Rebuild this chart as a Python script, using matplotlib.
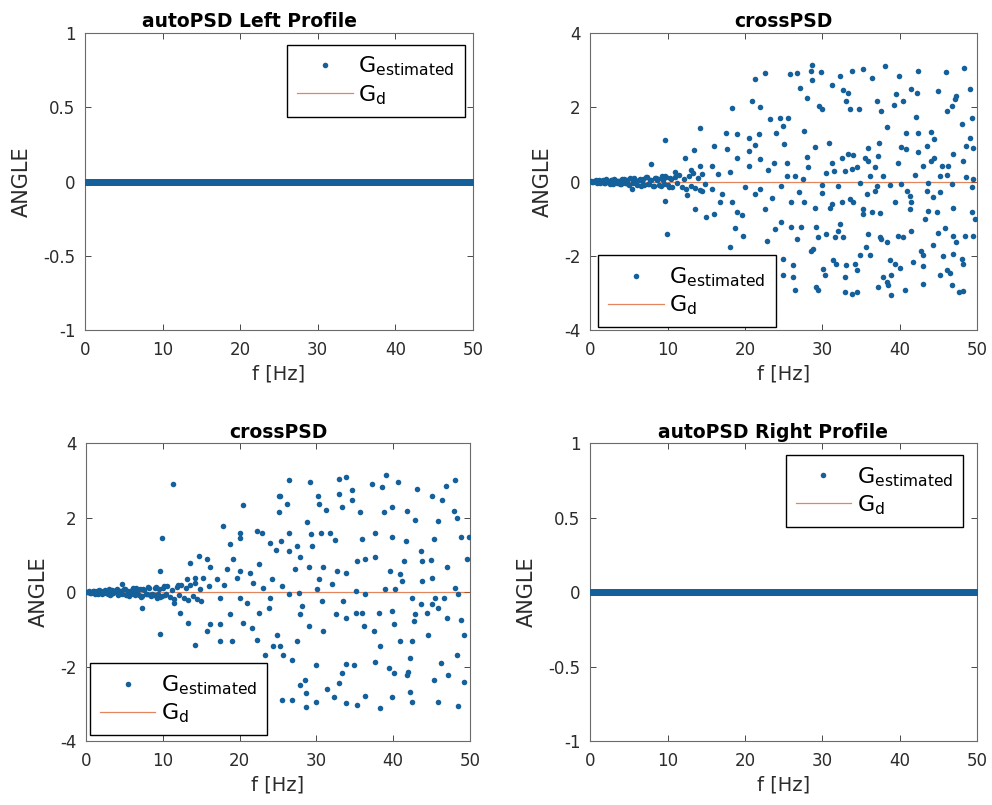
import numpy as np
import matplotlib
matplotlib.use('Agg')
import matplotlib.pyplot as plt

plt.rcParams['font.family'] = ['DejaVu Sans']
plt.rcParams['mathtext.fontset'] = 'dejavusans'

# frequency bins of the auto spectra (phase is zero everywhere)
freq_auto = np.arange(0, 50.05, 0.1)
angle_auto_left = np.zeros_like(freq_auto)
angle_auto_right = np.zeros_like(freq_auto)

# cross spectrum, left->right (top right panel): (f [Hz], angle [rad])
cross_top = [
    # near-zero cluster at low frequency
    (0.1, 0.01), (0.4, -0.02), (0.7, 0.03), (1.0, 0.00), (1.3, -0.04), (1.6, 0.05), (1.9, -0.03),
    (2.2, 0.02), (2.5, -0.06), (2.8, 0.04), (3.1, 0.07), (3.4, -0.05), (3.7, 0.01), (4.0, -0.08),
    (4.3, 0.06), (4.6, 0.03), (4.9, -0.07), (5.2, 0.09), (5.5, -0.04), (5.8, 0.05), (6.1, -0.10),
    (6.4, 0.08), (6.7, 0.02), (7.0, -0.09), (7.3, 0.11), (7.6, -0.06), (7.9, 0.04), (8.2, -0.12),
    (8.5, 0.10), (8.8, 0.07), (9.1, -0.13), (9.4, 0.05), (9.7, 0.14), (10.0, -0.10), (10.3, 0.09),
    (10.6, -0.16), (10.9, 0.12), (11.2, -0.05), (11.5, 0.18), (11.8, -0.14), (12.1, 0.08),
    (12.4, -0.20), (12.7, 0.15), (13.0, -0.11), (13.3, 0.22), (13.6, -0.18), (13.9, 0.10),
    (14.2, -0.24), (14.5, 0.19), (14.8, -0.08),
    (0.25, -0.01), (0.55, 0.02), (0.85, -0.03), (1.15, 0.04), (1.45, 0.01), (1.75, -0.05),
    (2.05, 0.06), (2.35, -0.02), (2.65, 0.03), (2.95, -0.07), (3.25, 0.05), (3.55, 0.02),
    (3.85, -0.06), (4.15, 0.08), (4.45, -0.03), (4.75, 0.04), (5.05, -0.09), (5.35, 0.06),
    (5.65, 0.10), (5.95, -0.05), (6.25, 0.03), (6.55, -0.11), (6.85, 0.07), (7.15, 0.12),
    (7.45, -0.08), (7.75, 0.05), (8.05, -0.13), (8.35, 0.09), (8.65, 0.04), (8.95, -0.10),
    (9.25, 0.15), (9.55, -0.07), (9.85, 0.11), (10.15, -0.15), (10.45, 0.06),
    # 5 - 25 Hz
    (22.6, 2.92), (21.3, 2.76), (20.9, 2.18), (21.9, 2.00), (18.3, 1.97), (23.2, 1.69),
    (14.2, 1.45), (9.7, 1.13), (17.6, 1.31), (19.0, 1.29), (20.5, 1.18), (21.8, 1.29),
    (24.0, 1.31), (16.0, 0.96), (13.4, 0.85), (17.7, 0.88), (21.3, 0.99), (12.3, 0.64),
    (7.8, 0.46), (19.0, 0.64), (20.5, 0.82), (23.7, 0.51), (14.2, 0.42), (15.7, 0.42),
    (20.5, 0.42), (22.0, 0.60), (23.0, 0.30), (18.0, 0.25), (16.5, 0.20), (13.0, 0.30),
    (11.0, 0.25), (9.7, -0.52), (13.6, -0.74), (14.9, -0.96), (16.0, -0.88), (18.3, -0.56),
    (19.0, -0.83), (19.6, -0.90), (22.6, -0.74), (9.9, -1.41), (18.7, -1.26), (19.8, -1.46),
    (23.9, -1.28), (22.8, -1.59), (18.1, -1.77), (17.0, -0.34), (21.3, -0.34), (15.7, -0.20),
    (5.4, -0.20), (12.5, -0.35), (14.5, -0.25), (20.0, -0.15), (22.0, -0.20), (23.5, -0.45),
    (16.8, -0.55),
    # 25 - 50 Hz
    (28.7, 3.13), (29.8, 2.96), (25.8, 2.89), (26.7, 2.92), (28.5, 2.99), (33.8, 2.99),
    (35.2, 3.03), (38.1, 3.10), (39.9, 2.85), (42.3, 2.99), (46.0, 2.96), (48.3, 3.05),
    (36.4, 2.79), (32.3, 2.83), (28.7, 2.74), (31.3, 2.61), (27.1, 2.52), (32.7, 2.47),
    (33.3, 2.38), (39.5, 2.36), (41.4, 2.49), (42.2, 2.38), (45.0, 2.43), (47.3, 2.29),
    (49.1, 2.49), (28.0, 2.25), (29.6, 2.03), (30.0, 1.94), (33.1, 2.16), (33.6, 1.94),
    (34.7, 1.94), (37.1, 2.16), (39.2, 2.07), (40.4, 2.16), (37.6, 1.89), (46.1, 1.91),
    (46.7, 2.03), (47.1, 2.21), (24.5, 1.71), (25.6, 1.71), (42.1, 1.74), (49.3, 1.71),
    (38.4, 1.46), (24.9, 1.49), (27.6, 1.36), (40.8, 1.31), (42.4, 1.31), (44.1, 1.33),
    (44.4, 1.15), (48.0, 1.54), (49.1, 1.18), (30.9, 1.04), (29.0, 0.94), (35.9, 0.91),
    (37.3, 1.04), (40.2, 0.94), (40.8, 0.87), (43.5, 0.97), (48.6, 0.97), (49.5, 0.89),
    (25.1, 1.00), (28.0, 0.67), (32.5, 0.64), (33.3, 0.73), (34.0, 0.71), (35.5, 0.64),
    (37.2, 0.69), (42.4, 0.79), (44.4, 0.64), (46.9, 0.73), (25.4, 0.51), (31.2, 0.51),
    (35.9, 0.55), (39.8, 0.51), (43.0, 0.42), (44.0, 0.55), (48.2, 0.55), (45.4, 0.42),
    (46.3, 0.42), (28.2, 0.38), (30.5, 0.24), (31.5, 0.29), (32.9, 0.29), (33.8, 0.33),
    (34.5, 0.38), (36.8, 0.38), (37.9, 0.15), (36.1, 0.15), (25.4, 0.15), (26.4, 0.15),
    (27.5, 0.08), (42.0, 0.17), (45.2, 0.15), (46.1, 0.17), (48.5, 0.11), (49.5, 0.08),
    (24.7, -0.12), (29.9, -0.10), (32.0, -0.12), (34.8, -0.03), (37.0, -0.12), (38.7, -0.10),
    (40.2, -0.07), (43.7, -0.03), (46.7, -0.07), (49.3, -0.16), (27.0, -0.29), (29.9, -0.31),
    (35.8, -0.34), (36.8, -0.25), (40.9, -0.25), (41.3, -0.38), (43.5, -0.25), (45.2, -0.29),
    (26.0, -0.56), (27.6, -0.56), (31.2, -0.61), (32.5, -0.56), (33.6, -0.47), (34.0, -0.56),
    (39.4, -0.56), (41.5, -0.56), (44.3, -0.43), (29.0, -0.70), (31.0, -0.70), (35.3, -0.74),
    (35.3, -0.88), (36.4, -0.83), (37.4, -0.85), (41.3, -0.74), (43.7, -0.79), (44.8, -0.81),
    (46.9, -0.70), (49.3, -0.83), (49.7, -1.00), (24.7, -1.08), (43.3, -1.00), (32.3, -1.14),
    (26.0, -1.23), (27.3, -1.23), (29.2, -1.23), (30.5, -1.41), (32.0, -1.32), (31.6, -1.50),
    (32.7, -1.50), (29.5, -1.50), (26.7, -1.56), (41.5, -1.32), (39.8, -1.46), (40.4, -1.50),
    (37.4, -1.50), (37.6, -1.56), (38.3, -1.63), (35.9, -1.41), (45.0, -1.38), (45.8, -1.26),
    (46.9, -1.46), (47.3, -1.63), (48.4, -1.46), (49.5, -1.47), (44.3, -1.71), (28.8, -1.81),
    (28.5, -1.86), (35.7, -1.77), (34.8, -1.99), (36.1, -1.99), (42.8, -1.86), (43.0, -1.97),
    (45.6, -2.00), (46.9, -1.95), (48.0, -2.08), (24.9, -2.08), (26.2, -2.26), (38.7, -2.10),
    (39.4, -2.21), (40.0, -2.33), (41.7, -2.17), (43.0, -2.28), (31.4, -2.12), (31.8, -2.21),
    (30.1, -2.35), (33.1, -2.24), (34.2, -2.21), (34.5, -2.39), (30.3, -2.53), (32.9, -2.57),
    (26.2, -2.57), (24.9, -2.53), (37.9, -2.57), (38.3, -2.71), (38.9, -2.53), (38.5, -2.80),
    (37.2, -2.84), (45.2, -2.53), (46.1, -2.39), (46.5, -2.46), (48.2, -2.21), (29.2, -2.84),
    (29.5, -2.93), (26.4, -2.93), (32.9, -2.97), (33.8, -3.02), (34.5, -2.97), (38.9, -3.06),
    (40.7, -2.93), (43.0, -2.75), (46.7, -2.79), (47.6, -2.97), (48.2, -2.95),
]

# cross spectrum, right->left (bottom left panel)
cross_bottom = [
    # near-zero cluster at low frequency
    (0.1, -0.01), (0.4, 0.02), (0.7, -0.03), (1.0, 0.03), (1.3, 0.00), (1.6, -0.05), (1.9, 0.04),
    (2.2, -0.02), (2.5, 0.06), (2.8, -0.04), (3.1, -0.07), (3.4, 0.05), (3.7, -0.01), (4.0, 0.08),
    (4.3, -0.06), (4.6, 0.03), (4.9, 0.07), (5.2, -0.09), (5.5, 0.04), (5.8, -0.05), (6.1, 0.10),
    (6.4, -0.08), (6.7, -0.02), (7.0, 0.09), (7.3, -0.11), (7.6, 0.06), (7.9, -0.04), (8.2, 0.12),
    (8.5, -0.10), (8.8, -0.07), (9.1, 0.13), (9.4, -0.05), (9.7, -0.14), (10.0, 0.10), (10.3, -0.09),
    (10.6, 0.16), (10.9, -0.12), (11.2, 0.05), (11.5, -0.18), (11.8, 0.14), (12.1, -0.08),
    (12.4, 0.20), (12.7, -0.15), (13.0, 0.11), (13.3, -0.22), (13.6, 0.18), (13.9, -0.10),
    (14.2, 0.24), (14.5, -0.19), (14.8, 0.08),
    (0.25, 0.01), (0.55, -0.02), (0.85, 0.03), (1.15, -0.04), (1.45, 0.02), (1.75, 0.05),
    (2.05, -0.06), (2.35, 0.02), (2.65, -0.03), (2.95, 0.07), (3.25, -0.05), (3.55, -0.02),
    (3.85, 0.06), (4.15, -0.08), (4.45, 0.03), (4.75, -0.04), (5.05, 0.09), (5.35, -0.06),
    (5.65, -0.10), (5.95, 0.05), (6.25, -0.03), (6.55, 0.11), (6.85, -0.07), (7.15, -0.12),
    (7.45, 0.08), (7.75, -0.05), (8.05, 0.13), (8.35, -0.09), (8.65, -0.04), (8.95, 0.10),
    (9.25, -0.15), (9.55, 0.07), (9.85, -0.11), (10.15, 0.15), (10.45, -0.06),
    # 5 - 25 Hz
    (11.3, 2.91), (20.5, 2.34), (25.1, 2.59), (25.1, 2.14), (17.9, 1.78), (20.0, 1.58),
    (20.0, 1.45), (22.3, 1.63), (22.9, 1.60), (9.9, 1.45), (18.7, 1.29), (23.9, 1.33),
    (24.7, 1.13), (19.2, 0.88), (14.7, 0.97), (15.7, 0.88), (13.6, 0.79), (16.2, 0.68),
    (18.3, 0.61), (20.1, 0.57), (21.3, 0.52), (22.5, 0.75), (9.6, 0.57), (13.1, 0.34),
    (14.2, 0.39), (15.3, 0.39), (17.0, 0.34), (19.7, 0.39), (21.8, 0.25), (24.2, 0.34),
    (4.7, 0.23), (16.0, 0.15), (18.0, 0.20), (12.0, 0.18), (23.0, 0.10), (7.3, -0.42),
    (12.3, -0.56), (13.3, -0.83), (16.2, -0.86), (17.5, -0.86), (15.8, -1.04), (18.8, -0.60),
    (20.5, -0.83), (21.6, -0.96), (9.7, -1.13), (14.2, -1.43), (17.5, -1.32), (19.0, -1.31),
    (22.3, -1.28), (23.3, -1.68), (24.4, -1.46), (22.7, -2.90), (20.1, -0.15), (23.8, -0.42),
    (24.0, -0.15), (15.0, -0.25), (17.5, -0.15), (21.0, -0.30), (22.5, -0.55), (11.5, -0.30),
    # 25 - 50 Hz
    (26.4, 3.00), (29.2, 2.95), (33.0, 3.05), (33.9, 3.09), (34.6, 2.75), (37.2, 2.89),
    (38.5, 2.82), (39.1, 3.14), (40.6, 2.97), (43.1, 2.77), (46.9, 2.86), (48.1, 3.02),
    (26.2, 2.37), (25.3, 2.59), (30.2, 2.59), (30.3, 2.37), (31.3, 2.21), (32.9, 2.64),
    (33.3, 2.28), (34.6, 2.46), (35.7, 2.14), (38.8, 2.14), (39.8, 2.28), (41.8, 2.19),
    (42.9, 1.94), (45.1, 2.59), (46.4, 2.46), (47.9, 2.19), (48.3, 1.99), (45.9, 1.92),
    (28.8, 1.87), (26.5, 1.60), (25.4, 1.38), (30.6, 1.60), (31.8, 1.58), (32.4, 1.40),
    (29.3, 1.56), (37.7, 1.60), (35.9, 1.42), (39.9, 1.49), (41.7, 1.36), (45.3, 1.42),
    (48.8, 1.47), (49.9, 1.47), (27.5, 1.24), (29.4, 1.24), (26.4, 1.11), (27.9, 0.93),
    (36.4, 0.88), (35.3, 0.84), (37.7, 0.93), (41.4, 0.84), (43.6, 1.11), (43.8, 0.84),
    (44.9, 0.86), (47.0, 0.68), (49.6, 0.88), (27.2, 0.61), (29.0, 0.68), (30.9, 0.68),
    (32.7, 0.57), (33.8, 0.52), (39.6, 0.57), (40.9, 0.48), (41.2, 0.30), (43.8, 0.30),
    (45.0, 0.39), (30.3, 0.34), (32.0, 0.21), (30.1, 0.07), (25.5, 0.16), (26.4, -0.06),
    (27.7, -0.02), (35.1, 0.03), (36.4, -0.06), (39.0, 0.07), (40.3, 0.07), (42.5, -0.15),
    (45.5, -0.15), (46.6, -0.15), (48.1, 0.12), (48.5, -0.06), (30.7, -0.24), (33.5, -0.24),
    (28.1, -0.38), (32.5, -0.59), (33.8, -0.69), (35.1, -0.56), (36.0, -0.56), (38.1, -0.56),
    (39.9, -0.51), (43.6, -0.33), (42.9, -0.60), (44.4, -0.56), (45.1, -0.33), (45.9, -0.42),
    (27.9, -0.60), (29.0, -0.92), (30.9, -1.04), (36.2, -0.92), (37.5, -1.05), (40.1, -0.87),
    (40.9, -1.32), (42.5, -1.31), (42.7, -0.78), (44.6, -1.14), (47.0, -0.69), (48.8, -0.74),
    (49.2, -1.14), (24.9, -1.14), (25.3, -1.46), (27.5, -1.32), (26.8, -1.82), (25.7, -1.68),
    (29.9, -1.97), (33.8, -1.94), (34.9, -1.96), (37.7, -1.89), (38.3, -1.46), (42.2, -1.77),
    (39.4, -2.05), (40.1, -2.18), (42.0, -2.14), (46.2, -1.91), (47.2, -2.23), (48.3, -1.68),
    (49.2, -2.41), (45.3, -2.36), (33.3, -2.18), (32.9, -2.45), (28.5, -2.36), (27.9, -2.50),
    (31.4, -2.60), (32.3, -2.81), (28.6, -2.72), (26.8, -2.90), (25.5, -2.90), (28.6, -3.08),
    (29.9, -2.96), (33.8, -2.99), (35.3, -3.04), (36.4, -2.79), (38.3, -3.11), (39.9, -2.81),
    (42.2, -2.68), (42.5, -2.96), (45.9, -2.96), (48.5, -3.05), (41.8, -2.22),
]

f_top, ang_top = np.array(cross_top).T
f_bot, ang_bot = np.array(cross_bottom).T

C_EST = '#14609a'
C_D = '#D95319'
C_TXT = '#2b2b2b'

fig = plt.figure(figsize=(9.92, 8.05), dpi=100)

# [left, bottom, width, height] in figure fraction
positions = [
    [0.0857, 0.590, 0.391, 0.369],
    [0.595, 0.590, 0.390, 0.369],
    [0.0867, 0.0795, 0.387, 0.370],
    [0.595, 0.0795, 0.390, 0.370],
]

panels = [
    dict(title='autoPSD Left Profile', tx=0.425, f=freq_auto, a=angle_auto_left, ms=4.8,
         ylim=(-1, 1), yticks=[-1, -0.5, 0, 0.5, 1],
         leg_loc='upper right', leg_anchor=(0.979, 0.96)),
    dict(title='crossPSD', tx=0.5, f=f_top, a=ang_top, ms=4.0, ylim=(-4, 4),
         yticks=[-4, -2, 0, 2, 4], leg_loc='lower left', leg_anchor=(0.021, 0.01)),
    dict(title='crossPSD', tx=0.5, f=f_bot, a=ang_bot, ms=4.0, ylim=(-4, 4),
         yticks=[-4, -2, 0, 2, 4], leg_loc='lower left', leg_anchor=(0.01, 0.02)),
    dict(title='autoPSD Right Profile', tx=0.473, f=freq_auto, a=angle_auto_right, ms=4.8,
         ylim=(-1, 1), yticks=[-1, -0.5, 0, 0.5, 1],
         leg_loc='upper right', leg_anchor=(0.964, 0.96)),
]

for pos, p in zip(positions, panels):
    ax = fig.add_axes(pos)
    # reference line sits underneath the estimated points
    ax.plot(p['f'], p['a'], 'o', color=C_EST, markersize=p['ms'], markeredgewidth=0,
            label=r'G$_{\mathrm{estimated}}$', zorder=3)
    ax.plot([0, 50], [0, 0], '-', color=C_D, lw=0.9, alpha=0.7, label=r'G$_{\mathrm{d}}$',
            zorder=2)

    ax.set_xlim(0, 50)
    ax.set_ylim(*p['ylim'])
    ax.set_xticks([0, 10, 20, 30, 40, 50])
    ax.set_yticks(p['yticks'])
    ax.set_yticklabels([f'{v:g}' for v in p['yticks']])
    ax.tick_params(direction='in', top=True, right=True, length=4, width=0.6,
                   labelsize=12, colors=C_TXT)
    ax.tick_params(axis='x', pad=8)
    ax.tick_params(axis='y', pad=7)
    for s in ax.spines.values():
        s.set_color('#6b6b6b')
        s.set_linewidth(0.8)

    ax.set_xlabel('f [Hz]', fontsize=14, color=C_TXT, labelpad=4)
    ax.set_ylabel('ANGLE', fontsize=15, color=C_TXT, labelpad=8)
    ax.set_title(p['title'], x=p['tx'], fontsize=13.5, fontweight='bold', pad=4)

    leg = ax.legend(loc=p['leg_loc'], bbox_to_anchor=p['leg_anchor'], fontsize=16,
                    handlelength=2.5, handletextpad=0.25, borderpad=0.45, labelspacing=0.2,
                    fancybox=False, framealpha=1, edgecolor='black', borderaxespad=0)
    leg.get_frame().set_linewidth(1.0)
    leg.legend_handles[0].set_markersize(4.0)

fig.savefig('out.png', dpi=100)
